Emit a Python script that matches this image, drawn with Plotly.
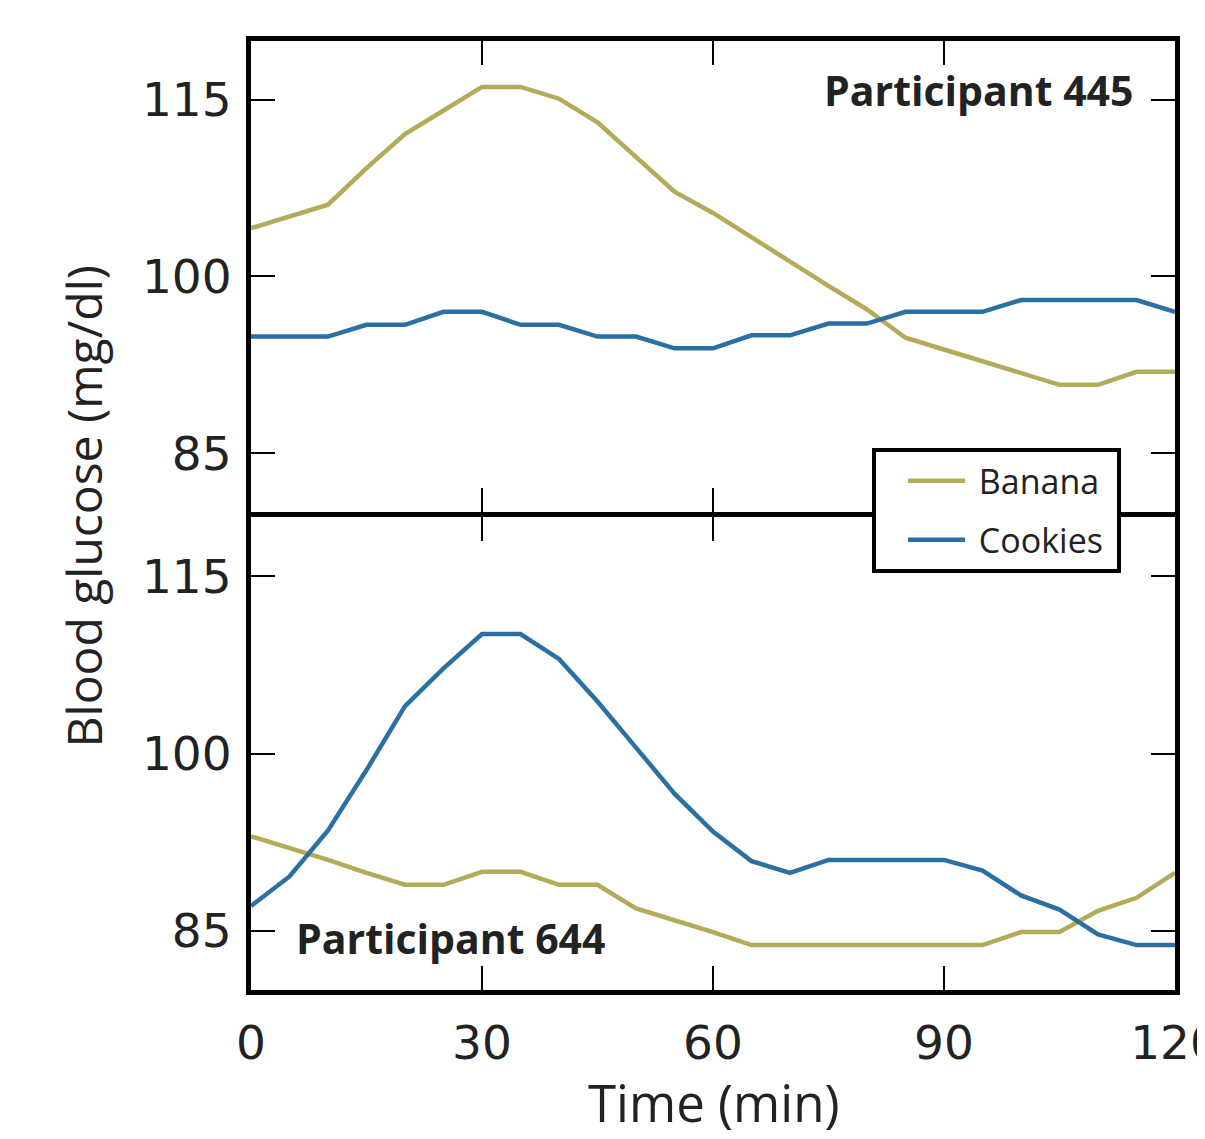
import plotly.graph_objects as go
from plotly.subplots import make_subplots

# ---- data ----
time_min = [0, 5, 10, 15, 20, 25, 30, 35, 40, 45, 50, 55, 60, 65, 70, 75, 80, 85, 90, 95, 100, 105, 110, 115, 120]

p445_banana = [104.1, 105.1, 106.1, 109.2, 112.1, 114.1, 116.1, 116.1, 115.1, 113.1, 110.2, 107.2, 105.4,
               103.3, 101.3, 99.2, 97.2, 94.8, 93.8, 92.8, 91.8, 90.8, 90.8, 91.9, 91.9]
p445_cookies = [94.9, 94.9, 94.9, 95.9, 95.9, 97.0, 97.0, 95.9, 95.9, 94.9, 94.9, 93.9, 93.9,
                95.0, 95.0, 96.0, 96.0, 97.0, 97.0, 97.0, 98.0, 98.0, 98.0, 98.0, 97.0]

p644_banana = [93.0, 92.0, 91.0, 89.9, 88.9, 88.9, 90.0, 90.0, 88.9, 88.9, 86.9, 85.9, 84.9,
               83.8, 83.8, 83.8, 83.8, 83.8, 83.8, 83.8, 84.9, 84.9, 86.7, 87.8, 89.9]
p644_cookies = [87.1, 89.6, 93.5, 98.6, 104.0, 107.2, 110.1, 110.1, 108.0, 104.4, 100.5, 96.6, 93.4,
                90.9, 89.9, 91.0, 91.0, 91.0, 91.0, 90.1, 88.0, 86.8, 84.7, 83.8, 83.8]

x_ticks = [0, 30, 60, 90, 120]
y_ticks = [85, 100, 115]
series_names = ["Banana", "Cookies"]
panel_labels = ["Participant 445", "Participant 644"]

BANANA = "#b3ab5a"
COOKIES = "#2b70a3"
TXT = "#222222"
LW = 5

fig = make_subplots(rows=2, cols=1, shared_xaxes=True, vertical_spacing=0)

fig.add_trace(go.Scatter(x=time_min, y=p445_banana, mode="lines", name="&nbsp;" + series_names[0] + "&nbsp;",
                         line=dict(color=BANANA, width=4.5), legendgroup="b"), row=1, col=1)
fig.add_trace(go.Scatter(x=time_min, y=p445_cookies, mode="lines", name="&nbsp;" + series_names[1] + "&nbsp;",
                         line=dict(color=COOKIES, width=4.5), legendgroup="c"), row=1, col=1)
fig.add_trace(go.Scatter(x=time_min, y=p644_banana, mode="lines", name=series_names[0],
                         line=dict(color=BANANA, width=4.5), showlegend=False, legendgroup="b"), row=2, col=1)
fig.add_trace(go.Scatter(x=time_min, y=p644_cookies, mode="lines", name=series_names[1],
                         line=dict(color=COOKIES, width=4.5), showlegend=False, legendgroup="c"), row=2, col=1)

axis_common = dict(showline=True, linecolor="black", linewidth=LW, mirror="ticks",
                   ticks="inside", ticklen=24, tickwidth=2, tickcolor="black",
                   showgrid=False, zeroline=False, automargin=False,
                   tickfont=dict(family="DejaVu Sans", size=47, color=TXT))

for r in (1, 2):
    fig.update_xaxes(range=[0, 120], tickvals=x_ticks, ticklabelstandoff=8,
                     ticklabeloverflow="allow",
                     showticklabels=(r == 2), row=r, col=1, **axis_common)
    fig.update_yaxes(range=[80, 120], tickvals=y_ticks, ticklabelstandoff=5,
                     row=r, col=1, **axis_common)

# panels share the middle frame line
fig.update_yaxes(domain=[0.5037, 1.0], row=1, col=1)
fig.update_yaxes(domain=[0.0, 0.4984], row=2, col=1)

fig.add_annotation(text="<b>" + panel_labels[0] + "</b>", xref="x domain", yref="y domain",
                   x=0.9567, y=0.8953, xanchor="right", yanchor="middle", showarrow=False,
                   font=dict(family="Open Sans", size=41, color=TXT))
fig.add_annotation(text="<b>" + panel_labels[1] + "</b>", xref="x2 domain", yref="y2 domain",
                   x=0.0466, y=0.1093, xanchor="left", yanchor="middle", showarrow=False,
                   font=dict(family="Open Sans", size=41, color=TXT))

fig.add_annotation(text="Blood glucose (mg/dl)", xref="paper", yref="paper",
                   x=-0.1813, y=0.510, xanchor="center", yanchor="middle", textangle=-90,
                   showarrow=False, font=dict(family="Open Sans", size=48, color=TXT))
fig.add_annotation(text="Time (min)", xref="paper", yref="paper",
                   x=0.501, y=-0.1175, xanchor="center", yanchor="middle",
                   showarrow=False, font=dict(family="Open Sans", size=51, color=TXT))

fig.update_layout(
    width=1205, height=1131,
    margin=dict(l=243, r=38, t=33, b=149, autoexpand=False),
    paper_bgcolor="white", plot_bgcolor="white",
    showlegend=True,
    legend=dict(x=0.9416, y=0.5711, xanchor="right", yanchor="top",
                bgcolor="white", bordercolor="black", borderwidth=4,
                font=dict(family="Open Sans", size=34, color=TXT),
                itemwidth=57, indentation=27,
                tracegroupgap=12, traceorder="grouped"),
)

fig.write_html("out.html")
